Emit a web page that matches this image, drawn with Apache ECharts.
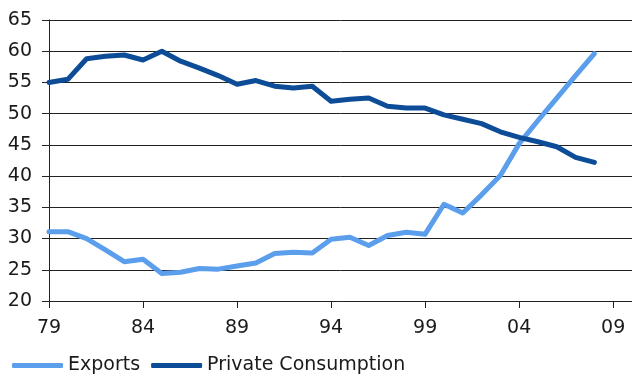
<!DOCTYPE html>
<html>
<head>
<meta charset="utf-8">
<script src="https://cdn.jsdelivr.net/npm/echarts@6/dist/echarts.min.js"></script>
<style>
  html, body { margin: 0; padding: 0; background: #fff; }
  #chart { width: 632px; height: 376px; }
</style>
</head>
<body>
<div id="chart"></div>
<script>
// Year categories 1979–2010 (two-digit labels, every fifth one shown)
const years = ['79','80','81','82','83','84','85','86','87','88','89','90','91','92','93','94',
               '95','96','97','98','99','00','01','02','03','04','05','06','07','08','09','10'];

// Share of GDP, %
const exportsShare = [31.1, 31.1, 30.0, 28.2, 26.3, 26.7, 24.4, 24.6, 25.2, 25.1,
                      25.6, 26.1, 27.6, 27.8, 27.7, 29.9, 30.2, 28.9, 30.5, 31.0,
                      30.7, 35.5, 34.1, 37.0, 40.1, 45.2, 48.9, 52.5, 56.1, 59.6, null, null];

const privateConsumption = [55.0, 55.5, 58.8, 59.2, 59.4, 58.6, 60.0, 58.4, 57.3, 56.1,
                            54.7, 55.3, 54.4, 54.1, 54.4, 52.0, 52.3, 52.5, 51.2, 50.9,
                            50.9, 49.8, 49.1, 48.4, 47.1, 46.2, 45.5, 44.7, 43.0, 42.2, null, null];

const yMin = 20, yMax = 65, yStep = 5;

const font = 'DejaVu Sans';
const textColor = '#1a1a1a';
const lineColor = '#222';

// label / tick every fifth year, starting at 1979
const everyFifth = (index) => index % 5 === 0;

const chart = echarts.init(document.getElementById('chart'), null, { renderer: 'canvas' });

chart.setOption({
  animation: false,
  color: ['#5a9eec', '#0d4c97'],
  grid: { left: 49, top: 20, right: 0, height: 281, containLabel: false },
  legend: {
    left: 7,
    top: 351,
    icon: 'roundRect',
    itemWidth: 51,
    itemHeight: 5,
    itemGap: 11,
    textStyle: { fontFamily: font, fontSize: 19, color: textColor },
    data: ['Exports', 'Private Consumption']
  },
  xAxis: {
    type: 'category',
    data: years,
    boundaryGap: false,
    axisLine: { show: true, lineStyle: { color: lineColor, width: 1 } },
    axisTick: { show: true, interval: everyFifth, length: 7, inside: false, lineStyle: { color: lineColor } },
    axisLabel: {
      interval: everyFifth, margin: 18,
      fontFamily: font, fontSize: 19, color: textColor
    },
    splitLine: { show: false }
  },
  yAxis: {
    type: 'value',
    min: yMin, max: yMax, interval: yStep,
    axisLine: { show: true, lineStyle: { color: lineColor, width: 1 } },
    axisTick: { show: true, length: 7, lineStyle: { color: lineColor } },
    axisLabel: { margin: 17, fontFamily: font, fontSize: 19, color: textColor },
    splitLine: { show: true, lineStyle: { color: lineColor, width: 1 } }
  },
  series: [
    {
      name: 'Exports',
      type: 'line',
      data: exportsShare,
      showSymbol: false,
      symbol: 'none',
      lineStyle: { width: 5, cap: 'round', join: 'round' }
    },
    {
      name: 'Private Consumption',
      type: 'line',
      data: privateConsumption,
      showSymbol: false,
      symbol: 'none',
      lineStyle: { width: 5, cap: 'round', join: 'round' }
    }
  ]
});
</script>
</body>
</html>
